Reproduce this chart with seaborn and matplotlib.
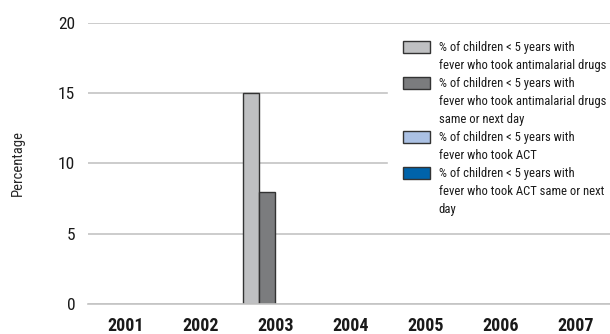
import numpy as np
import pandas as pd
import matplotlib
matplotlib.use("Agg")
import matplotlib.pyplot as plt
import seaborn as sns
from matplotlib.patches import Patch

years = ["2001", "2002", "2003", "2004", "2005", "2006", "2007"]
antimalarial = [np.nan, np.nan, 15, np.nan, np.nan, np.nan, np.nan]
antimalarial_sameday = [np.nan, np.nan, 8, np.nan, np.nan, np.nan, np.nan]
act = [np.nan] * 7
act_sameday = [np.nan] * 7

series_labels = [
    "% of children < 5 years with\nfever who took antimalarial drugs",
    "% of children < 5 years with\nfever who took antimalarial drugs\nsame or next day",
    "% of children < 5 years with\nfever who took ACT",
    "% of children < 5 years with\nfever who took ACT same or next\nday",
]
colors = ["#bfc0c2", "#7b7c7e", "#abc1e4", "#0063aa"]

rows = []
for lab, vals in zip(series_labels, [antimalarial, antimalarial_sameday, act, act_sameday]):
    for y, v in zip(years, vals):
        rows.append({"year": y, "series": lab, "value": v})
df = pd.DataFrame(rows)

sns.set_style("white")
plt.rcParams["font.family"] = ["Roboto Condensed", "Archivo Narrow", "DejaVu Sans"]
plt.rcParams["text.color"] = "#1a1a1a"
plt.rcParams["xtick.color"] = "#1a1a1a"
plt.rcParams["ytick.color"] = "#1a1a1a"

fig = plt.figure(figsize=(6.1, 3.34), dpi=100)
ax = fig.add_axes([0.1438, 0.0898, 0.861, 0.842])

sns.barplot(data=df.dropna(), x="year", y="value", hue="series",
            order=years, hue_order=series_labels, palette=colors,
            width=0.87, edgecolor="#333333", linewidth=1, legend=False, ax=ax)

ax.set_xlim(-0.5, 6.5)
ax.set_ylim(0, 20)
ax.set_yticks([0, 5, 10, 15, 20])
ax.yaxis.grid(True, color="#c4c4c4", linewidth=1.2)
ax.set_axisbelow(True)
for s in ["top", "right", "left"]:
    ax.spines[s].set_visible(False)
ax.spines["bottom"].set_color("#c4c4c4")
ax.spines["bottom"].set_linewidth(1.2)

ax.tick_params(axis="y", length=0, pad=9, labelsize=12.5)
ax.tick_params(axis="x", which="major", length=0, pad=9.5, labelsize=13, labelcolor="#1a1a1a")
for t in ax.get_xticklabels():
    t.set_fontweight("bold")
ax.set_xticks(np.arange(-0.5, 6.5, 1), minor=True)
ax.tick_params(axis="x", which="minor", length=11, width=1.2, color="#c4c4c4", direction="out")

ax.set_xlabel("")
ax.set_ylabel("Percentage", fontsize=10.5)
ax.yaxis.set_label_coords(-0.119, 0.5)

handles = [Patch(facecolor=c, edgecolor="#333333", linewidth=1) for c in colors]
leg = fig.legend(handles, series_labels, loc="upper left",
                 bbox_to_anchor=(388 / 610, 1 - 26 / 334), borderaxespad=0,
                 fontsize=9.1, frameon=True, facecolor="white", edgecolor="white",
                 framealpha=1, fancybox=False, borderpad=1.2,
                 handlelength=2.1, handleheight=1.05, handletextpad=0.7,
                 labelspacing=0.4)
for t in leg.get_texts():
    t.set_linespacing(1.5)
for col in leg._legend_handle_box.get_children():
    for item in col.get_children():
        item.align = "top"

fig.savefig("out.png", dpi=100)
